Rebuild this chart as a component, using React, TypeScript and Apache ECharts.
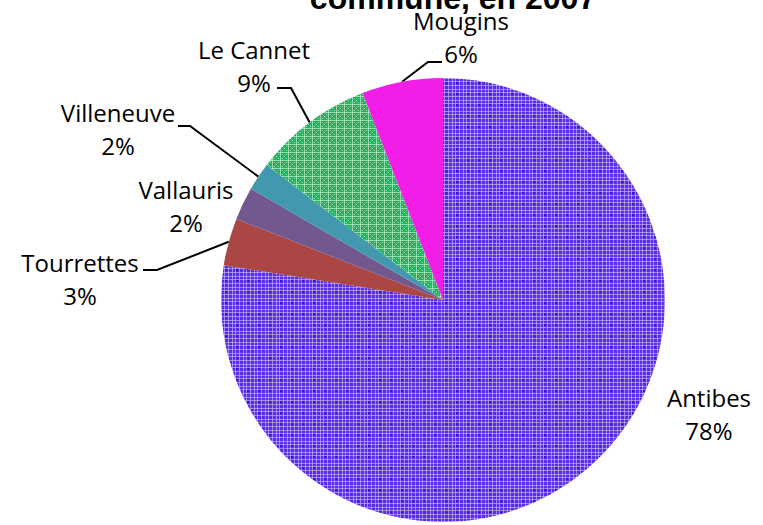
import React, { useEffect, useRef } from "react";
import * as echarts from "echarts";

// Share of each commune, in percent
const communes = ["Antibes", "Tourrettes", "Vallauris", "Villeneuve", "Le Cannet", "Mougins"];
const shares = [77.5, 3.45, 2.4, 2.05, 8.7, 5.9];
const titleText = "commune, en 2007";

// Where each label block sits (centre), and the elbow/end of its leader line
const labelSpots: [number, number][] = [
  [709, 414],
  [80, 279],
  [186, 206],
  [118, 129],
  [254, 66],
  [461, 37],
];
const leaderEnds: ([number, number][] | null)[] = [
  null,
  [[157, 270], [143, 270]],
  null,
  [[190, 126], [178, 126]],
  [[291, 88], [277, 88]],
  [[428, 62], [442, 62]],
];

function makeTile(size: number, draw: (ctx: CanvasRenderingContext2D) => void) {
  const c = document.createElement("canvas");
  c.width = size;
  c.height = size;
  const ctx = c.getContext("2d")!;
  draw(ctx);
  return { image: c.toDataURL(), repeat: "repeat", imageWidth: size, imageHeight: size } as any;
}

// Violet plaid with small dark dots
function violetPattern() {
  return makeTile(11, (ctx) => {
    ctx.fillStyle = "#5a2be8";
    ctx.fillRect(0, 0, 11, 11);
    ctx.fillStyle = "rgba(205,192,255,0.6)";
    for (const p of [1, 4, 8]) {
      ctx.fillRect(p, 0, 1, 11);
      ctx.fillRect(0, p, 11, 1);
    }
    ctx.fillStyle = "#3a0fd2";
    ctx.fillRect(5, 5, 2, 2);
  });
}

// Green plaid with light diagonal crosses
function greenPattern() {
  return makeTile(8, (ctx) => {
    ctx.fillStyle = "#22b45e";
    ctx.fillRect(0, 0, 8, 8);
    ctx.fillStyle = "rgba(205,245,220,0.65)";
    ctx.fillRect(0, 0, 8, 1);
    ctx.fillRect(0, 0, 1, 8);
    ctx.fillStyle = "rgba(225,255,235,0.55)";
    for (let i = 2; i < 8; i += 2) {
      ctx.fillRect(i, i, 1, 1);
      ctx.fillRect(8 - i, i, 1, 1);
    }
  });
}

export default function App() {
  const ref = useRef<HTMLDivElement>(null);

  useEffect(() => {
    if (!ref.current) return;
    const chart = echarts.init(ref.current, null, { renderer: "svg" });

    const fills: any[] = [
      violetPattern(),
      "#AA4643",
      "#71588F",
      "#4198AF",
      greenPattern(),
      "#F21DE6",
    ];

    const data = communes.map((name, i) => ({
      name,
      value: shares[i],
      itemStyle: { color: fills[i] },
      labelLine: { show: leaderEnds[i] != null },
    }));

    chart.setOption({
      animation: false,
      backgroundColor: "#ffffff",
      graphic: [
        {
          type: "text",
          x: 453,
          y: -2,
          style: {
            text: titleText,
            font: 'bold 32px "Liberation Sans", Arial, sans-serif',
            fill: "#000",
            align: "center",
            verticalAlign: "middle",
            textAlign: "center",
            textVerticalAlign: "middle",
          },
        },
      ],
      series: [
        {
          type: "pie",
          center: [443, 300],
          radius: 222,
          startAngle: 90,
          clockwise: true,
          avoidLabelOverlap: false,
          itemStyle: { borderWidth: 0 },
          label: {
            show: true,
            position: "outside",
            color: "#000",
            fontFamily: '"Open Sans", sans-serif',
            fontSize: 24,
            lineHeight: 33,
            formatter: (p: any) => `${p.name}\n${Math.round(p.percent)}%`,
          },
          labelLine: {
            show: true,
            length: 12,
            length2: 12,
            lineStyle: { color: "#000", width: 2 },
          },
          labelLayout: (params: any) => {
            const i = params.dataIndex;
            const [x, y] = labelSpots[i];
            const out: any = { x, y, align: "center", verticalAlign: "middle" };
            const leg = leaderEnds[i];
            if (leg && params.labelLinePoints) {
              out.labelLinePoints = [params.labelLinePoints[0], leg[0], leg[1]];
            }
            return out;
          },
          emphasis: { disabled: true },
          data,
        },
      ],
    });

    return () => chart.dispose();
  }, []);

  return (
    <div
      ref={ref}
      style={{ position: "absolute", left: 0, top: 0, width: 763, height: 525 }}
    />
  );
}
